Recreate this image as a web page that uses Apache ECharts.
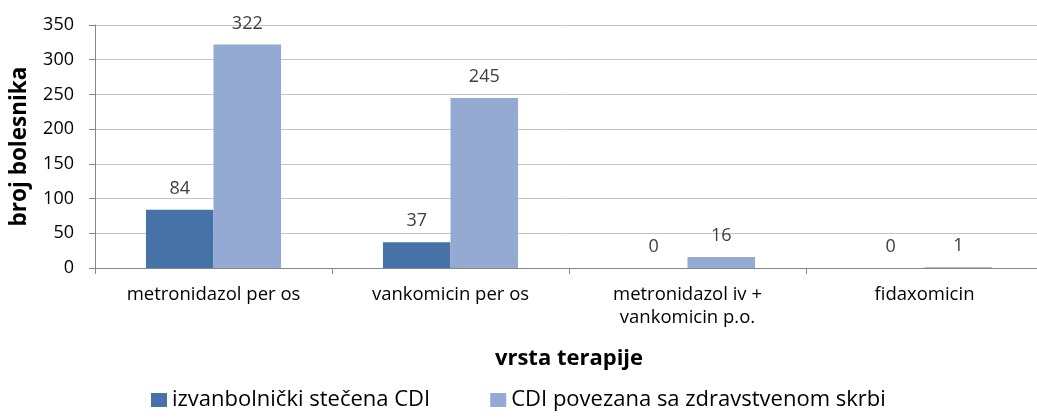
<!DOCTYPE html>
<html style="height: 100%">
<head>
    <meta charset="utf-8">
    <script src="https://cdn.jsdelivr.net/npm/echarts@6/dist/echarts.min.js"></script>
    <title>CDI terapija</title>
</head>
<body style="height: 100%; margin: 0; background: #fff">
<div id="container" style="width: 1037px; height: 417px"></div>
<script type="text/javascript">
let categories = ['metronidazol per os', 'vankomicin per os', 'metronidazol iv +\nvankomicin p.o.', 'fidaxomicin']
let izvanbolnicki = [84, 37, 0, 0]
let zdravstvena = [322, 245, 16, 1]
let seriesNames = ['izvanbolnički stečena CDI', 'CDI povezana sa zdravstvenom skrbi']

let font = '"Open Sans", sans-serif'
let txt = '#404040'

let chart = echarts.init(document.getElementById('container'))
chart.setOption({
    animation: false,
    textStyle: { fontFamily: font },
    grid: { left: 95, top: 25, width: 948, height: 243, outerBoundsMode: 'none', containLabel: false },
    legend: {
        data: seriesNames,
        left: 146,
        top: 384,
        itemWidth: 16,
        itemHeight: 14,
        itemGap: 60,
        icon: 'rect',
        textStyle: { fontSize: 22, color: '#000', fontFamily: font }
    },
    xAxis: {
        type: 'category',
        data: categories,
        name: 'vrsta terapije',
        nameLocation: 'middle',
        nameGap: 80,
        nameTextStyle: { fontSize: 22, fontWeight: 'bold', color: '#000', fontFamily: font },
        axisLine: { lineStyle: { color: '#878787' } },
        axisTick: { show: true, length: 6, lineStyle: { color: '#878787' } },
        axisLabel: { fontSize: 18.5, color: '#000', margin: 15, lineHeight: 23, interval: 0 }
    },
    yAxis: {
        type: 'value',
        min: 0,
        max: 350,
        interval: 50,
        name: 'broj bolesnika',
        nameLocation: 'middle',
        nameGap: 64,
        nameTextStyle: { fontSize: 22.5, fontWeight: 'bold', color: '#000', fontFamily: font },
        axisLine: { show: true, lineStyle: { color: '#878787' } },
        axisTick: { show: true, length: 6, lineStyle: { color: '#878787' } },
        axisLabel: { fontSize: 18, color: '#000', margin: 21 },
        splitLine: { lineStyle: { color: '#c4c4c4' } }
    },
    series: [
        {
            name: seriesNames[0],
            type: 'bar',
            data: izvanbolnicki,
            barGap: '0%',
            barCategoryGap: '43%',
            itemStyle: { color: '#4672a8' },
            label: { show: true, position: 'top', distance: 12, fontSize: 18, color: txt }
        },
        {
            name: seriesNames[1],
            type: 'bar',
            data: zdravstvena,
            barGap: '0%',
            barCategoryGap: '43%',
            itemStyle: { color: '#95aad3' },
            label: { show: true, position: 'top', distance: 12, fontSize: 18, color: txt }
        }
    ]
})
</script>
</body>
</html>
